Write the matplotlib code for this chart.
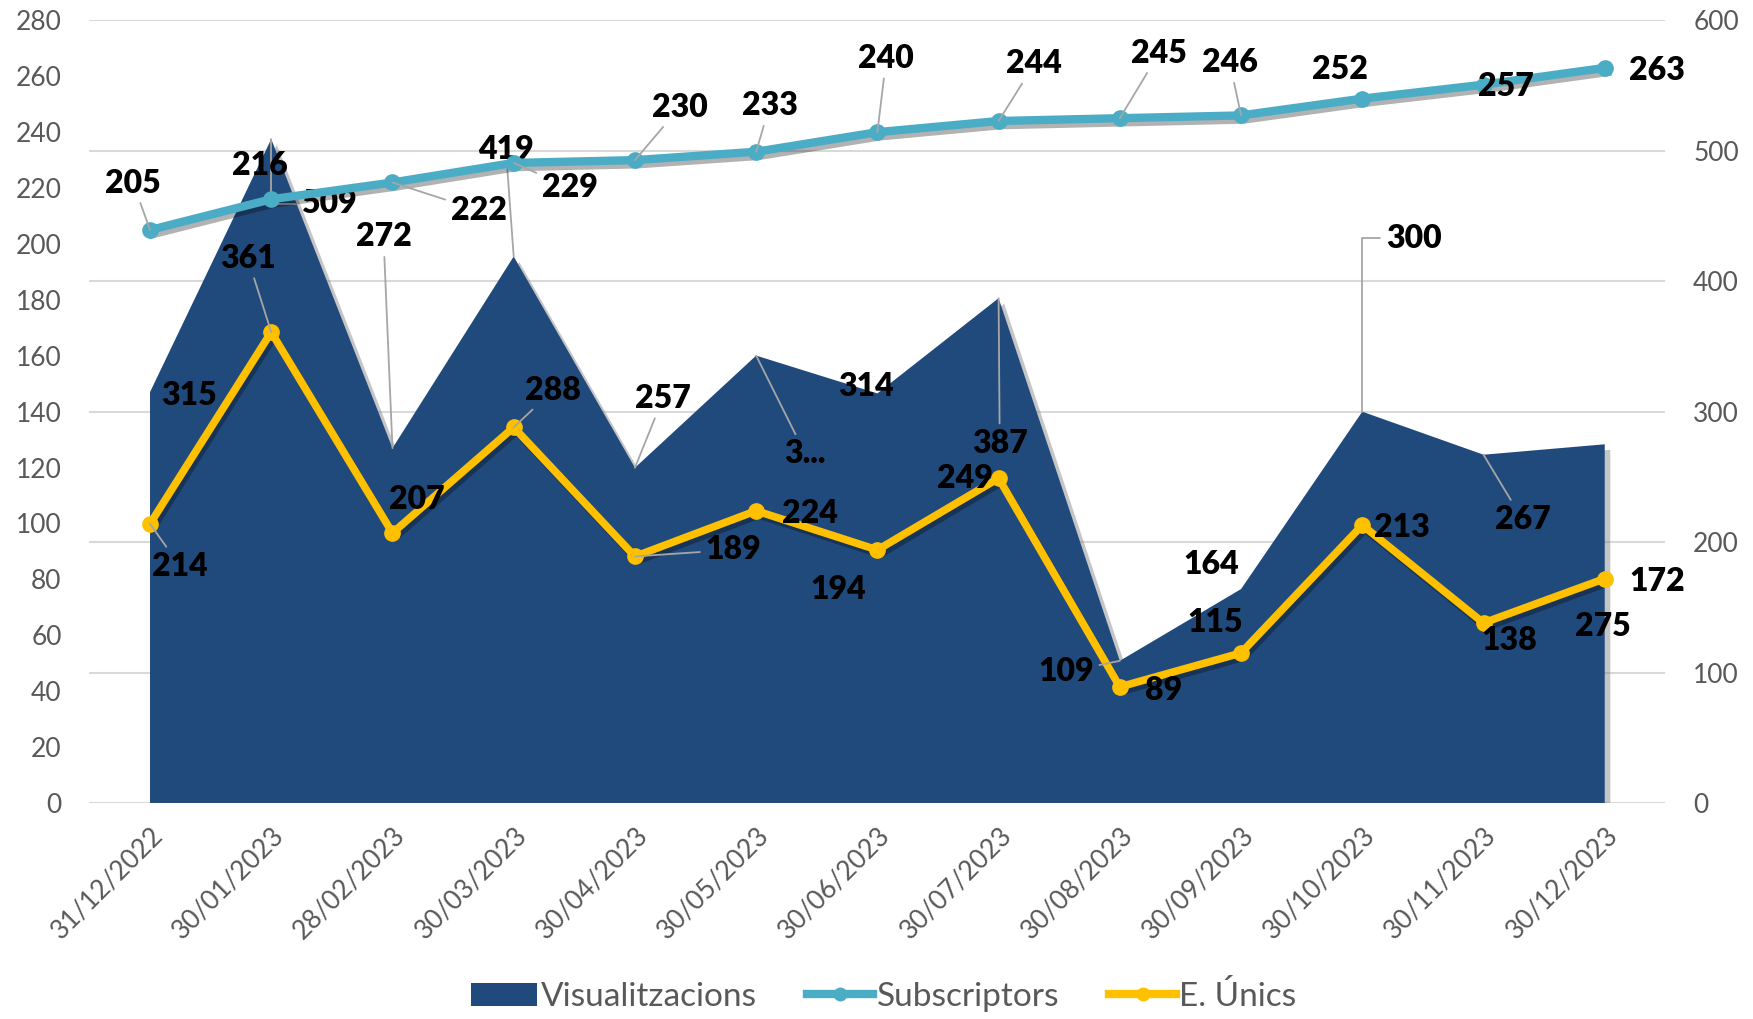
import matplotlib.pyplot as plt
from matplotlib import patheffects as pe
from matplotlib.lines import Line2D
from matplotlib.patches import Patch

# data
dates = ['31/12/2022', '30/01/2023', '28/02/2023', '30/03/2023', '30/04/2023',
         '30/05/2023', '30/06/2023', '30/07/2023', '30/08/2023', '30/09/2023',
         '30/10/2023', '30/11/2023', '30/12/2023']
visualitzacions = [315, 509, 272, 419, 257, 343, 314, 387, 109, 164, 300, 267, 275]
subscriptors = [205, 216, 222, 229, 230, 233, 240, 244, 245, 246, 252, 257, 263]
unics = [214, 361, 207, 288, 189, 224, 194, 249, 89, 115, 213, 138, 172]

vis_text = [str(v) for v in visualitzacions]
vis_text[5] = '3...'

# label offsets (pixels, y down) and which ones have a leader line
subs_off = [(-15, -42), (-10, -30), (77, 25), (50, 22), (40, -47), (12, -41), (8, -66),
            (32, -51), (35, -58), (-10, -47), (-20, -26), (20, 2), (47, 2)]
subs_lead = {0, 2, 3, 4, 5, 6, 7, 8, 9}
vis_off = [(35, 3), (52, 58), (-8, -189), (-7, -96), (25, -62), (44, 88), (-10, -6),
           (1, 130), (-48, 10), (-27, -22), (46, -155), (35, 58), (-2, 163)]
vis_lead = {1, 2, 3, 4, 5, 7, 8, 10, 11}
vis_elbow = {1, 10}
uni_off = [(27, 38), (-21, -66), (22, -30), (35, -33), (88, -6), (48, 2), (-35, 35),
           (-30, 0), (39, 3), (-23, -27), (35, 2), (23, 16), (47, 3)]
uni_lead = {0, 1, 3, 4}

C_AREA = '#214A7C'
C_SUBS = '#4BACC6'
C_UNI = '#FFC000'
C_TXT = '#595959'
SC = 1.118  # reference shown -> full size

plt.rcParams['font.family'] = ['Lato', 'DejaVu Sans']

fig = plt.figure(figsize=(17.53, 10.19), dpi=100)
ax = fig.add_axes([0.051, 0.212, 0.899, 0.768])
ax2 = ax.twinx()

x = list(range(len(dates)))
shadow = [pe.SimpleLineShadow(offset=(2, -3), alpha=0.3), pe.Normal()]

# right scale (0-600): area + E. Unics, ticks on the right
ax.fill_between(x, visualitzacions, color=C_AREA, lw=0, zorder=2,
                path_effects=[pe.withSimplePatchShadow(offset=(4, -4), shadow_rgbFace='#808080', alpha=0.45)])
ax.plot(x, unics, color=C_UNI, lw=5.5, zorder=3, path_effects=shadow)
ax.plot(x, unics, ls='none', marker='o', ms=11, color=C_UNI, zorder=3)
ax.set_ylim(0, 600)
ax.set_yticks(range(0, 601, 100))
ax.yaxis.tick_right()
ax.grid(axis='y', color='#D9D9D9', lw=1.5, zorder=0)
ax.set_axisbelow(True)

# left scale (0-280): Subscriptors
ax2.plot(x, subscriptors, color=C_SUBS, lw=6, zorder=3, path_effects=shadow)
ax2.plot(x, subscriptors, ls='none', marker='o', ms=11, color=C_SUBS, zorder=3)
ax2.set_ylim(0, 280)
ax2.set_yticks(range(0, 281, 20))
ax2.yaxis.tick_left()

ax.set_xlim(-0.5, len(dates) - 0.5)
ax.set_xticks(x)
ax.set_xticklabels(dates, rotation=45, ha='right', rotation_mode='anchor')

for a in (ax, ax2):
    for s in a.spines.values():
        s.set_visible(False)
    a.tick_params(length=0, labelsize=19, labelcolor=C_TXT, pad=20)
ax.tick_params(axis='x', pad=14)


def label(a, vals, texts, offs, leads, elbows=()):
    for i, (v, t, (dx, dy)) in enumerate(zip(vals, texts, offs)):
        arrow = None
        if i in leads:
            arrow = dict(arrowstyle='-', color='#A6A6A6', lw=1.3, shrinkA=2, shrinkB=0)
            if i in elbows:
                arrow['connectionstyle'] = 'angle,angleA=0,angleB=90,rad=0'
        a.annotate(t, xy=(i, v), xytext=(dx * SC, -dy * SC), textcoords='offset pixels',
                   ha='center', va='center', fontsize=23, fontweight='heavy', color='black',
                   arrowprops=arrow, annotation_clip=False, zorder=5)


label(ax, visualitzacions, vis_text, vis_off, vis_lead, vis_elbow)
label(ax, unics, [str(v) for v in unics], uni_off, uni_lead)
label(ax2, subscriptors, [str(v) for v in subscriptors], subs_off, subs_lead)

handles = [Patch(facecolor=C_AREA),
           Line2D([], [], color=C_SUBS, lw=6, marker='o', ms=9),
           Line2D([], [], color=C_UNI, lw=6, marker='o', ms=9)]
leg = fig.legend(handles, ['Visualitzacions', 'Subscriptors', 'E. Únics'], loc='center',
                 bbox_to_anchor=(0.504, 0.022), ncol=3, frameon=False, fontsize=24,
                 handlelength=2.0, handletextpad=0.1, columnspacing=1.5)
for t in leg.get_texts():
    t.set_color(C_TXT)

fig.savefig('out.png', dpi=100)
